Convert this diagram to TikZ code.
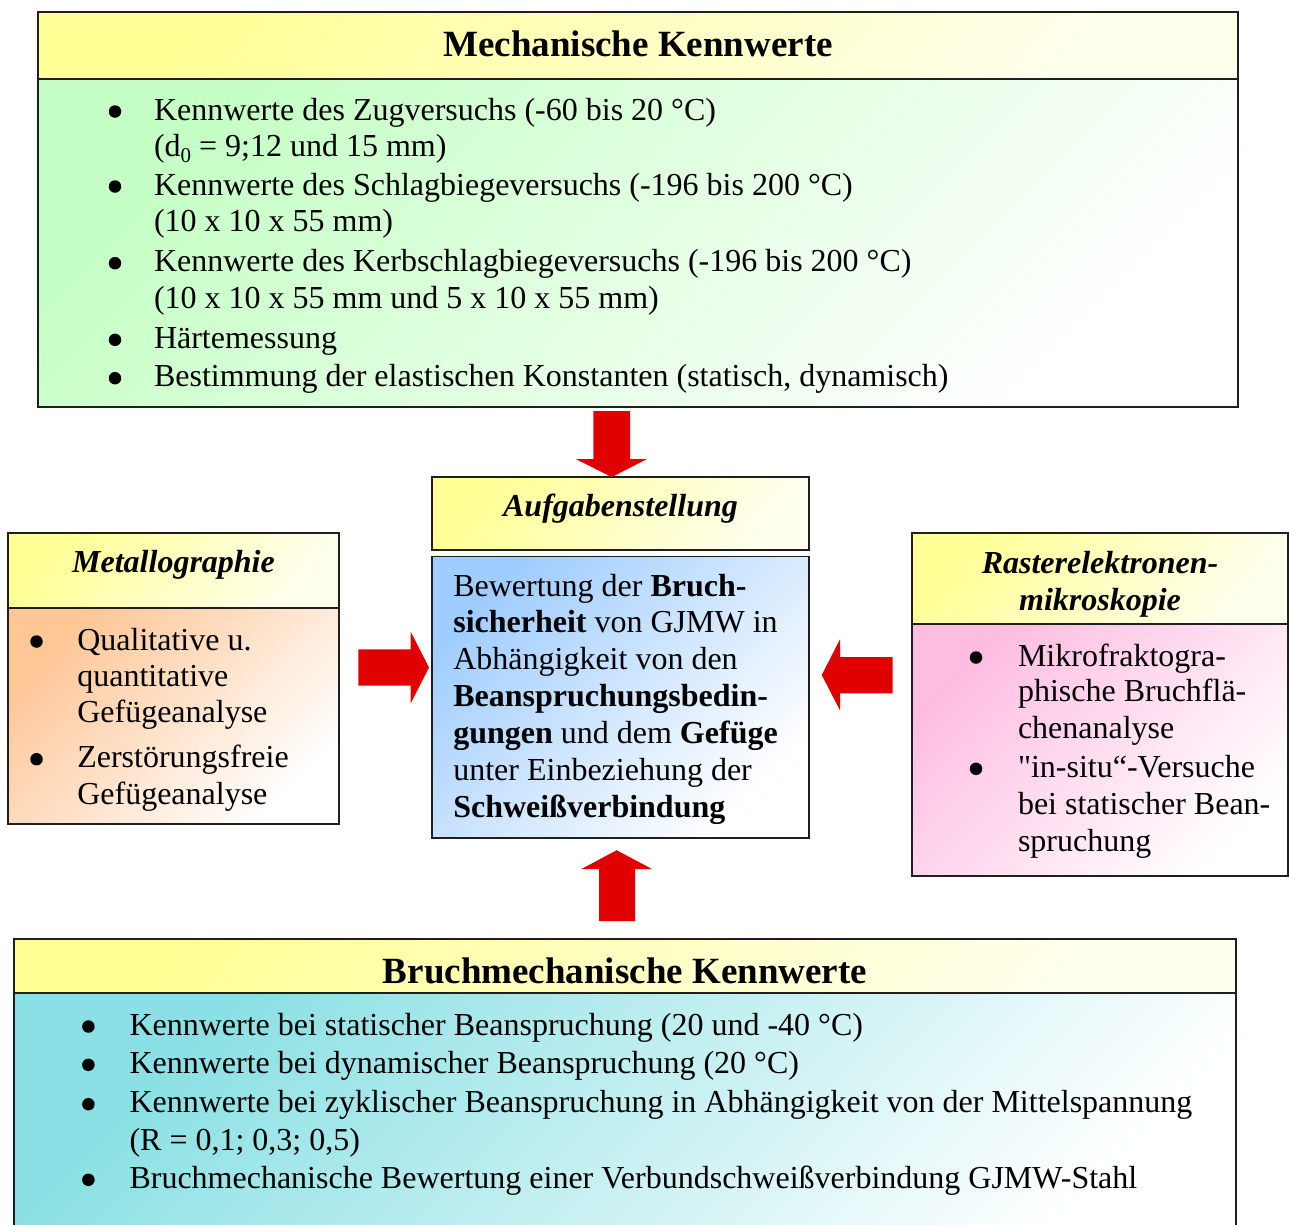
\documentclass[tikz,border=0pt]{standalone}
\usepackage{fontspec}
\setmainfont{Liberation Serif}
\definecolor{hdrY}{RGB}{255,255,150}
\definecolor{hdrW}{RGB}{255,255,238}
\definecolor{grnC}{RGB}{198,255,198}
\definecolor{peachC}{RGB}{255,198,150}
\definecolor{blueC}{RGB}{160,205,255}
\definecolor{pinkC}{RGB}{255,188,225}
\definecolor{tealC}{RGB}{138,224,228}
\definecolor{arrowred}{RGB}{224,0,0}
\begin{document}
\begin{tikzpicture}[x=1pt,y=-1pt,
  box/.style={rectangle, draw=black!88, line width=1.5pt, inner sep=0pt, outer sep=0pt, anchor=north west},
  hdr/.style={box, top color=hdrY, bottom color=hdrW, shading angle=50},
  bodyfill/.style={box, top color=#1, bottom color=white, shading angle=45},
  tx/.style={anchor=base west, inner sep=0pt, outer sep=0pt, font=\fontsize{32}{37}\selectfont},
  dot/.style={circle, fill=black, draw=none, inner sep=0pt, outer sep=0pt, minimum size=12.5pt},
  ttl/.style={anchor=base, inner sep=0pt, outer sep=0pt, font=\fontsize{37}{40}\selectfont\bfseries},
  sttl/.style={anchor=base, inner sep=0pt, outer sep=0pt, font=\fontsize{32}{37}\selectfont\bfseries\itshape},
  redarrow/.style={fill=arrowred, draw=none}
]
\useasboundingbox (0,0) rectangle (1289,1224);
\clip (0,0) rectangle (1289,1224);

% ---------- Mechanische Kennwerte ----------
\node[bodyfill=grnC, minimum width=1200pt, minimum height=328pt] (mkB) at (38,79) {};
\node[hdr, minimum width=1200pt, minimum height=67pt] (mkH) at (38,12) {};
\node[ttl] (mkT) at (638,56.7) {Mechanische Kennwerte};
\node[dot] (mkb1) at (115,111.5) {};
\node[tx] (mk1) at (154,120) {Kennwerte des Zugversuchs (-60 bis 20 °C)};
\node[tx] (mk2) at (154,156.7) {(d\raisebox{-6pt}{\fontsize{21}{21}\selectfont 0} = 9;12 und 15 mm)};
\node[dot] (mkb2) at (115,186.5) {};
\node[tx] (mk3) at (154,195) {Kennwerte des Schlagbiegeversuchs (-196 bis 200 °C)};
\node[tx] (mk4) at (154,231.7) {(10 x 10 x 55 mm)};
\node[dot] (mkb3) at (115,263.2) {};
\node[tx] (mk5) at (154,271.7) {Kennwerte des Kerbschlagbiegeversuchs (-196 bis 200 °C)};
\node[tx] (mk6) at (154,308.3) {(10 x 10 x 55 mm und 5 x 10 x 55 mm)};
\node[dot] (mkb4) at (115,339.8) {};
\node[tx] (mk7) at (154,348.3) {Härtemessung};
\node[dot] (mkb5) at (115,378.2) {};
\node[tx] (mk8) at (154,386.7) {Bestimmung der elastischen Konstanten (statisch, dynamisch)};

% ---------- Aufgabenstellung ----------
\node[hdr, minimum width=377pt, minimum height=73pt] (auH) at (432,477) {};
\node[bodyfill=blueC, minimum width=377pt, minimum height=281.5pt] (auB) at (432,556.5) {};
\node[sttl] (auT) at (620.5,516.6) {Aufgabenstellung};
\node[tx] (au1) at (453.3,596) {Bewertung der \textbf{Bruch-}};
\node[tx] (au2) at (453.3,632.9) {\textbf{sicherheit} von GJMW in};
\node[tx] (au3) at (453.3,669.8) {Abhängigkeit von den};
\node[tx] (au4) at (453.3,706.7) {\textbf{Beanspruchungsbedin-}};
\node[tx] (au5) at (453.3,743.6) {\textbf{gungen} und dem \textbf{Gefüge}};
\node[tx] (au6) at (453.3,780.5) {unter Einbeziehung der};
\node[tx] (au7) at (453.3,817.4) {\textbf{Schweißverbindung}};

% ---------- Metallographie ----------
\node[bodyfill=peachC, minimum width=331pt, minimum height=216pt] (meB) at (8,608) {};
\node[hdr, minimum width=331pt, minimum height=75pt] (meH) at (8,533) {};
\node[sttl] (meT) at (173.5,572.7) {Metallographie};
\node[dot] (meb1) at (36.5,641.5) {};
\node[tx] (me1) at (77.3,650) {Qualitative u.};
\node[tx] (me2) at (77.3,686) {quantitative};
\node[tx] (me3) at (77.3,722.7) {Gefügeanalyse};
\node[dot] (meb2) at (36.5,759.2) {};
\node[tx] (me4) at (77.3,767.7) {Zerstörungsfreie};
\node[tx] (me5) at (77.3,804) {Gefügeanalyse};

% ---------- Rasterelektronenmikroskopie ----------
\node[bodyfill=pinkC, minimum width=376pt, minimum height=252pt] (reB) at (912,624) {};
\node[hdr, minimum width=376pt, minimum height=91pt] (reH) at (912,533) {};
\node[sttl] (reT1) at (1100,573.3) {Rasterelektronen-};
\node[sttl] (reT2) at (1100,610) {mikroskopie};
\node[dot] (reb1) at (976,657.5) {};
\node[tx] (re1) at (1018,666) {Mikrofraktogra-};
\node[tx] (re2) at (1018,701.7) {phische Bruchflä-};
\node[tx] (re3) at (1018,738.3) {chenanalyse};
\node[dot] (reb2) at (976,768.8) {};
\node[tx] (re4) at (1018,777.3) {{\addfontfeature{Ligatures=TeXOff}"}in-situ“-Versuche};
\node[tx] (re5) at (1018,814) {bei statischer Bean-};
\node[tx] (re6) at (1018,851) {spruchung};

% ---------- Bruchmechanische Kennwerte ----------
\node[bodyfill=tealC, minimum width=1222pt, minimum height=270pt] (bmB) at (14,993) {};
\node[hdr, minimum width=1222pt, minimum height=54pt] (bmH) at (14,939) {};
\node[ttl] (bmT) at (625,983.3) {Bruchmechanische Kennwerte};
\node[dot] (bmb1) at (88.4,1026.5) {};
\node[tx] (bm1) at (129.5,1035) {Kennwerte bei statischer Beanspruchung (20 und -40 °C)};
\node[dot] (bmb2) at (88.4,1064.8) {};
\node[tx] (bm2) at (129.5,1073.3) {Kennwerte bei dynamischer Beanspruchung (20 °C)};
\node[dot] (bmb3) at (88.4,1104.2) {};
\node[tx] (bm3) at (129.5,1112.7) {Kennwerte bei zyklischer Beanspruchung in Abhängigkeit von der Mittelspannung};
\node[tx] (bm4) at (129.5,1150) {(R = 0,1; 0,3; 0,5)};
\node[dot] (bmb4) at (88.4,1179.8) {};
\node[tx] (bm5) at (129.5,1188.3) {Bruchmechanische Bewertung einer Verbundschweißverbindung GJMW-Stahl};

% ---------- block arrows ----------
\fill[redarrow] (593.3,411) -- (630,411) -- (630,459.2) -- (646.7,459.2) -- (611.7,477.1) -- (576,459.2) -- (593.3,459.2) -- cycle;
\fill[redarrow] (358.3,649.3) -- (410.7,649.3) -- (410.7,631.7) -- (429,667.5) -- (410.7,703.3) -- (410.7,685.7) -- (358.3,685.7) -- cycle;
\fill[redarrow] (892.7,657) -- (840,657) -- (840,639.3) -- (821.7,675) -- (840,710.3) -- (840,693.4) -- (892.7,693.4) -- cycle;
\fill[redarrow] (599,921) -- (599,869.2) -- (581,869.2) -- (616.7,850.2) -- (652.3,869.2) -- (635,869.2) -- (635,921) -- cycle;
\end{tikzpicture}
\end{document}
